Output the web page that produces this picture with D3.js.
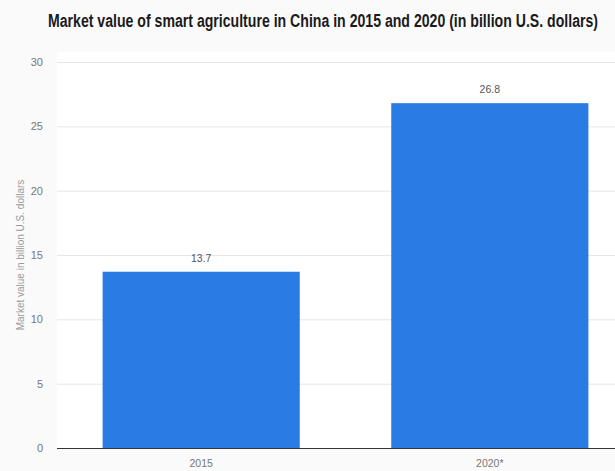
<!DOCTYPE html>
<html><head><meta charset="utf-8">
<script src="https://cdn.jsdelivr.net/npm/d3@7"></script>
<style>html,body{margin:0;padding:0;background:#fafafa;}svg{display:block;}</style>
</head><body>
<svg id="c" width="615" height="471"></svg>
<script>
const categories = ["2015", "2020*"];
const values = [13.7, 26.8];
const yTicks = [0, 5, 10, 15, 20, 25, 30];
const title = "Market value of smart agriculture in China in 2015 and 2020 (in billion U.S. dollars)";
const yLabel = "Market value in billion U.S. dollars";

(function () {
const svg = d3.select("#c");
const W = 615;
const mLeft = 57, mTop = 62, mBottom = 448;

svg.append("rect").attr("x", mLeft).attr("y", mTop - 10).attr("width", W - mLeft).attr("height", mBottom - mTop + 10).attr("fill", "#fff");

const y = d3.scaleLinear().domain([0, 30]).range([mBottom, mTop]);
const x = d3.scaleBand().domain(categories).range([mLeft, 634]).paddingInner(0.317).paddingOuter(0.158);

svg.append("text").attr("x", 323).attr("y", 27).attr("text-anchor", "middle")
  .attr("font-family", "'Liberation Sans Narrow', 'Liberation Sans', Arial, sans-serif").attr("font-weight", "bold")
  .attr("font-size", 17.5).attr("fill", "#1a1a1a")
  .attr("textLength", 550).attr("lengthAdjust", "spacingAndGlyphs").text(title);

const yAxis = d3.axisLeft(y).tickValues(yTicks).tickSize(-(W - mLeft)).tickPadding(14);
const gy = svg.append("g").attr("transform", `translate(${mLeft},0)`).call(yAxis);
gy.select(".domain").remove();
gy.selectAll(".tick line").attr("stroke", "#e6e6e6").attr("stroke-width", 1);
gy.selectAll(".tick text").attr("font-family", "Liberation Sans, Arial, sans-serif").attr("font-size", 11).attr("fill", "#777");

svg.append("text").attr("transform", `translate(24,${(mTop + mBottom) / 2 + 0}) rotate(-90)`)
  .attr("text-anchor", "middle").attr("font-family", "Liberation Sans, Arial, sans-serif")
  .attr("font-size", 10).attr("fill", "#999").text(yLabel);

svg.selectAll("rect.bar").data(values).join("rect").attr("class", "bar")
  .attr("x", (d, i) => x(categories[i])).attr("width", x.bandwidth())
  .attr("y", d => y(d)).attr("height", d => mBottom - y(d)).attr("fill", "#2a7be3");

svg.selectAll("text.val").data(values).join("text").attr("class", "val")
  .attr("x", (d, i) => x(categories[i]) + x.bandwidth() / 2).attr("y", d => y(d) - 10)
  .attr("text-anchor", "middle").attr("font-family", "Liberation Sans, Arial, sans-serif")
  .attr("font-size", 10.5).attr("fill", "#555").text(d => d.toFixed(1));

const xAxis = d3.axisBottom(x).tickSize(0).tickPadding(12);
const gx = svg.append("g").attr("transform", `translate(0,${mBottom})`).call(xAxis);
gx.select(".domain").attr("d", `M${mLeft},0.5H${W}`).attr("stroke", "#333");
gx.selectAll(".tick text").attr("font-family", "Liberation Sans, Arial, sans-serif").attr("font-size", 10.5).attr("fill", "#777");
})();
</script>
</body></html>
